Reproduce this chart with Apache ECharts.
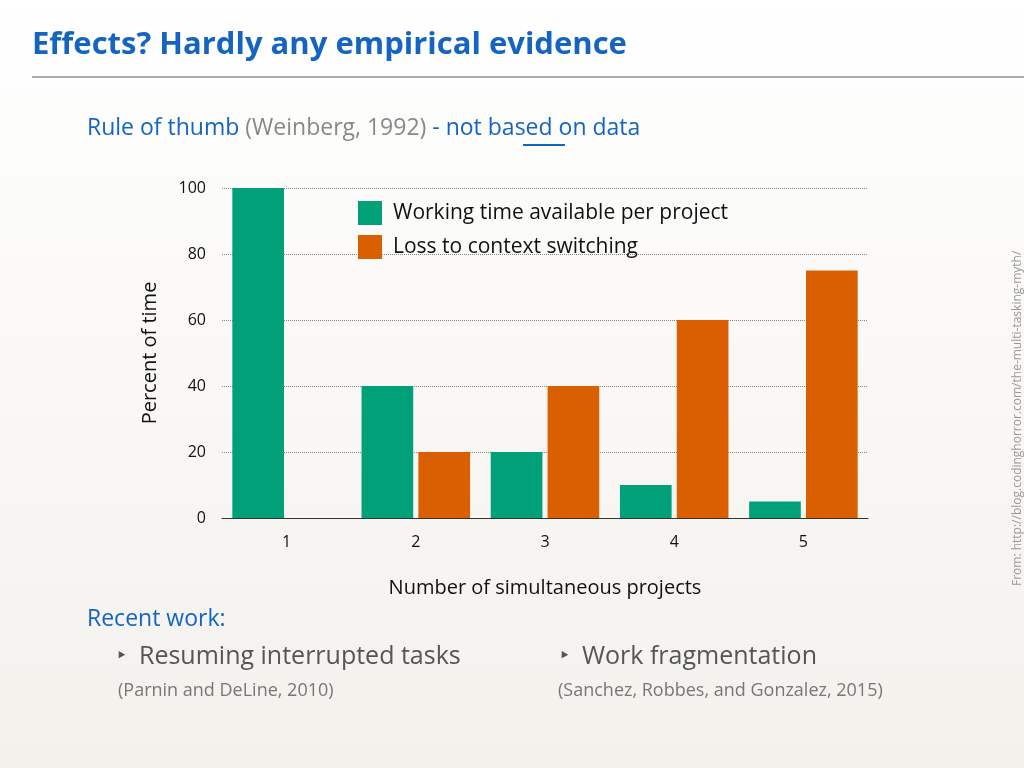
<!DOCTYPE html>
<html><head><meta charset="utf-8">
<script src="https://cdn.jsdelivr.net/npm/echarts@6/dist/echarts.min.js"></script>
<style>html,body{margin:0;padding:0}#c{width:1024px;height:768px}</style>
</head><body><div id="c"></div>
<script>
const projects = ['1', '2', '3', '4', '5'];
const workingTime = [100, 40, 20, 10, 5];
const contextLoss = [0, 20, 40, 60, 75];
const yTicks = [0, 20, 40, 60, 80, 100];

const chart = echarts.init(document.getElementById('c'));
const font = '"Open Sans", "DejaVu Sans", sans-serif';
const blue = '#1565c0';

chart.setOption({
    backgroundColor: new echarts.graphic.LinearGradient(0, 0, 0, 1, [
        { offset: 0, color: '#ffffff' }, { offset: 1, color: '#f3f1ec' }
    ]),
    textStyle: { fontFamily: font },
    grid: { left: 222, right: 156, top: 188, bottom: 250 },
    legend: {
        left: 353, top: 196, orient: 'vertical', itemWidth: 24, itemHeight: 24, itemGap: 10,
        icon: 'rect', textStyle: { fontSize: 21, color: '#111', padding: [0, 0, 0, 6] },
        data: ['Working time available per project', 'Loss to context switching']
    },
    xAxis: {
        type: 'category', data: projects,
        name: 'Number of simultaneous projects', nameLocation: 'middle', nameGap: 60,
        nameTextStyle: { fontSize: 20, color: '#111' },
        axisLine: { lineStyle: { color: '#333' } }, axisTick: { show: false },
        axisLabel: { fontSize: 16, color: '#111', margin: 16 }
    },
    yAxis: {
        type: 'value', min: yTicks[0], max: yTicks[yTicks.length - 1], interval: 20,
        name: 'Percent of time', nameLocation: 'middle', nameGap: 62,
        nameTextStyle: { fontSize: 20, color: '#111' },
        axisLine: { show: false }, axisTick: { show: false },
        axisLabel: { fontSize: 16, color: '#111', margin: 16 },
        splitLine: { lineStyle: { color: '#888', type: 'dotted' } }
    },
    series: [
        { name: 'Working time available per project', type: 'bar', data: workingTime,
          itemStyle: { color: '#00a078' }, barGap: '10%', barCategoryGap: '16%' },
        { name: 'Loss to context switching', type: 'bar', data: contextLoss,
          itemStyle: { color: '#d95f00' } }
    ],
    graphic: [
        { type: 'text', left: 32, top: 30, style: { text: 'Effects? Hardly any empirical evidence', font: 'bold 31px "Open Sans", sans-serif', fill: blue } },
        { type: 'rect', shape: { x: 32, y: 76, width: 992, height: 2 }, style: { fill: '#aaa' } },
        { type: 'text', left: 87, top: 117, style: { rich: { b: { fontSize: 23, fill: blue, fontFamily: font }, g: { fontSize: 23, fill: '#888', fontFamily: font }, u: { fontSize: 23, fill: blue, fontFamily: font } }, text: '{b|Rule of thumb }{g|(Weinberg, 1992)}{b| - }{u|not}{b| based on data}' } },
        { type: 'rect', shape: { x: 523, y: 144, width: 42, height: 2 }, style: { fill: blue } },
        { type: 'text', left: 87, top: 608, style: { text: 'Recent work:', font: '23px "Open Sans", sans-serif', fill: blue } },
        { type: 'text', left: 117, top: 644, style: { text: '‣  Resuming interrupted tasks', font: '25px "Open Sans", sans-serif', fill: '#555' } },
        { type: 'text', left: 118, top: 682, style: { text: '(Parnin and DeLine, 2010)', font: '18px "Open Sans", sans-serif', fill: '#777' } },
        { type: 'text', left: 560, top: 644, style: { text: '‣  Work fragmentation', font: '25px "Open Sans", sans-serif', fill: '#555' } },
        { type: 'text', left: 558, top: 682, style: { text: '(Sanchez, Robbes, and Gonzalez, 2015)', font: '18px "Open Sans", sans-serif', fill: '#777' } },
        { type: 'text', x: 1012, y: 586, rotation: Math.PI / 2, style: { text: 'From: http://blog.codinghorror.com/the-multi-tasking-myth/', font: '12px "Open Sans", sans-serif', fill: '#999' } }
    ]
});
</script></body></html>
